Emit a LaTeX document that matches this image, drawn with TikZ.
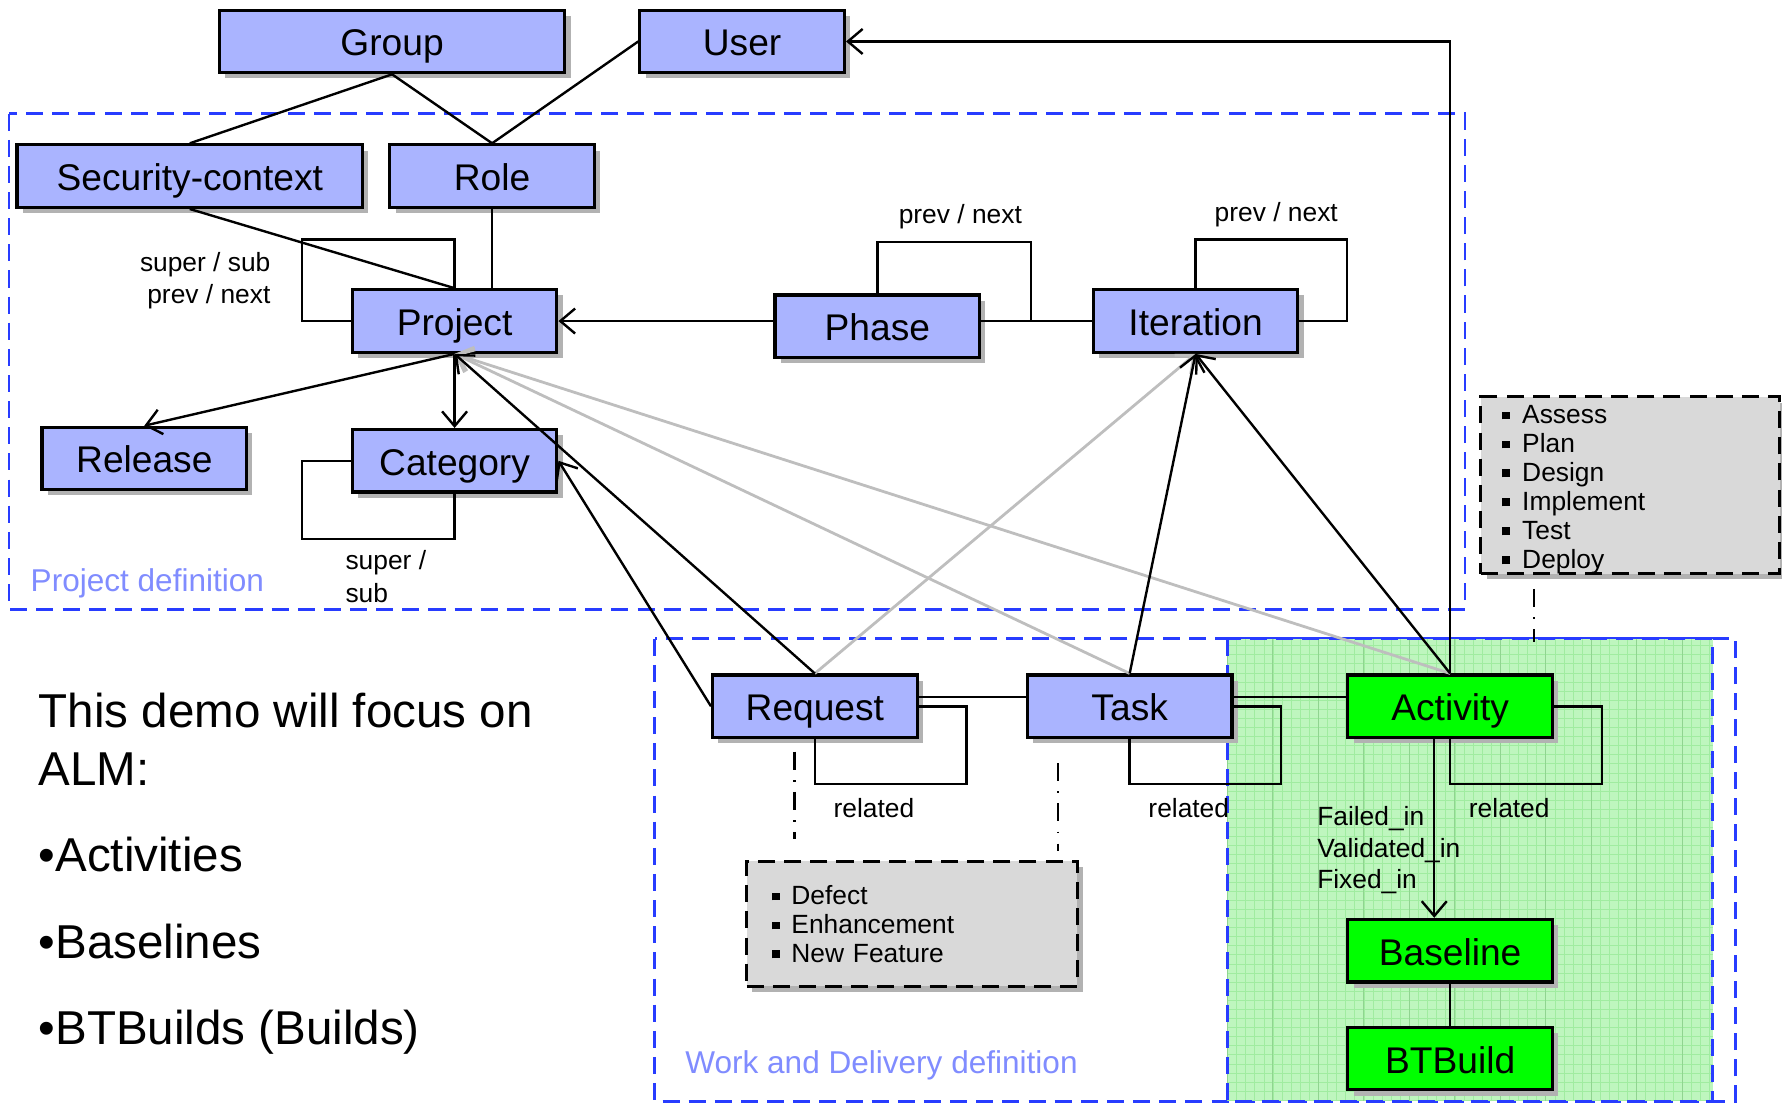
\documentclass[tikz,border=0pt]{standalone}
\usepackage{fontspec}
\setmainfont{Liberation Sans}
\usetikzlibrary{arrows.meta,calc,shadows}
\definecolor{kasten}{RGB}{170,180,255}
\definecolor{rahmen}{RGB}{40,60,255}
\definecolor{schrift}{RGB}{128,140,255}
\definecolor{gruen}{RGB}{0,255,0}
\definecolor{hellgruen}{RGB}{190,246,190}
\definecolor{gitter}{RGB}{160,236,160}
\definecolor{grau}{RGB}{217,217,217}
\definecolor{hellgrau}{RGB}{190,190,190}

\newcommand{\qpunkt}{\rule[0.15em]{0.3em}{0.3em}\hspace{0.45em}}

\tikzset{
	klasse/.style={draw, line width=0.8pt, fill=kasten, minimum width=1.8cm, minimum height=0.55cm, inner sep=0pt,
		text height=0.72em, text depth=0pt,
		font=\fontsize{9.3}{11}\selectfont,
		drop shadow={shadow xshift=0.05cm, shadow yshift=-0.05cm, fill=gray!60, opacity=1}},
	gklasse/.style={klasse, fill=gruen},
	liste/.style={draw, dash pattern=on 1.5mm off 0.8mm, line width=0.8pt, fill=grau, align=left, inner sep=0pt,
		font=\fontsize{6.6}{7.25}\selectfont,
		drop shadow={shadow xshift=0.05cm, shadow yshift=-0.05cm, fill=gray!60, opacity=1}},
	bereich/.style={rahmen, dash pattern=on 1.5mm off 0.8mm, line width=0.7pt},
	bereichtext/.style={schrift, font=\fontsize{7.9}{9}\selectfont, inner sep=0pt},
	rolle/.style={font=\fontsize{6.6}{7.6}\selectfont, inner sep=0pt},
	gross/.style={font=\fontsize{11.9}{14}\selectfont, inner sep=0pt},
	pf/.style={-{Straight Barb[length=1.3mm,width=2.2mm]}},
	strichpunkt/.style={dash pattern=on 1.6mm off 0.9mm on 0.4pt off 0.9mm},
}

\begin{document}
\begin{tikzpicture}[line width=0.6pt]
	\useasboundingbox (0,0) rectangle (15.68,-9.71);

	% Bereiche
	\draw[bereich] (0.08,-1.00) rectangle (12.89,-5.36);
	\draw[bereich] (5.76,-5.62) rectangle (15.27,-9.69);
	\fill[hellgruen] (10.80,-5.62) rectangle (15.07,-9.69);
	\draw[gitter, line width=0.12pt, step=0.08] (10.80,-5.62) grid (15.07,-9.69);
	\foreach \x in {10.8,11.2,...,15.0}{
		\draw[gitter!90!black, line width=0.2pt] (\x,-5.62) -- (\x,-9.69);
	}
	\draw[bereich] (10.80,-5.62) rectangle (15.07,-9.69);
	\node[bereichtext, anchor=west] (lprojekt) at (0.26,-5.13) {Project definition};
	\node[bereichtext, anchor=west] (larbeit) at (6.02,-9.37) {Work and Delivery definition};

	% Klassen
	\node[klasse, minimum width=3.04cm] (group) at (3.45,-0.365) {Group};
	\node[klasse] (user) at (6.53,-0.365) {User};
	\node[klasse, minimum width=3.04cm] (secctx) at (1.67,-1.55) {Security-context};
	\node[klasse] (role) at (4.33,-1.55) {Role};
	\node[klasse] (project) at (4.00,-2.825) {Project};
	\node[klasse] (phase) at (7.72,-2.87) {Phase};
	\node[klasse] (iteration) at (10.52,-2.825) {Iteration};
	\node[klasse] (release) at (1.27,-4.035) {Release};
	\node[klasse] (category) at (4.00,-4.055) {Category};
	\node[klasse] (request) at (7.17,-6.215) {Request};
	\node[klasse] (task) at (9.94,-6.215) {Task};
	\node[gklasse] (activity) at (12.76,-6.215) {Activity};
	\node[gklasse] (baseline) at (12.76,-8.365) {Baseline};
	\node[gklasse] (btbuild) at (12.76,-9.315) {BTBuild};

	\node[liste, minimum width=2.63cm, minimum height=1.52cm, text width=2.25cm] (phasen) at (14.345,-4.27)
		{\\[-0.6pt]\qpunkt Assess\\\qpunkt Plan\\\qpunkt Design\\\qpunkt Implement\\\qpunkt Test\\\qpunkt Deploy};
	\node[liste, minimum width=2.91cm, minimum height=1.10cm, text width=2.47cm] (arten) at (8.025,-8.13)
		{\qpunkt Defect\\\qpunkt Enhancement\\\qpunkt New Feature};

	% Verbindungen
	\draw (group.south) -- (secctx.north);
	\draw (group.south) -- (role.north);
	\draw (user.west) -- (role.north);
	\draw (secctx.south) -- (project.north);
	\draw (role.south) -- (role.south |- project.north);
	\draw[pf] (activity.north) |- (user.east);

	\draw (project.north) -- ++(0,0.43) -| ([xshift=-0.43cm]project.west) -- (project.west);
	\draw (phase.north) -- ++(0,0.45) -| ([xshift=0.44cm]iteration.west -| phase.east) -- (iteration.west -| phase.east);
	\draw (iteration.west) -- (iteration.west -| phase.east);
	\draw (iteration.north) -- ++(0,0.43) -| ([xshift=0.42cm]iteration.east) -- (iteration.east);
	\draw[pf] (phase.west |- project.east) -- (project.east);

	\draw[pf] (project.south) -- (release.north);
	\draw[pf] (project.south) -- (category.north);
	\draw (category.west) -- ++(-0.43,0) -- ++(0,-0.69) -| (category.south);

	\draw[pf, hellgrau, line width=0.7pt] (task.north) -- (project.south);
	\draw[pf, hellgrau, line width=0.7pt] (activity.north) -- (project.south);
	\draw[pf, hellgrau, line width=0.7pt] (request.north) -- (iteration.south);
	\draw[pf] (request.north) -- (project.south);
	\draw[pf] (request.west) -- (category.east);
	\draw[pf] (task.north) -- (iteration.south);
	\draw[pf] (activity.north) -- (iteration.south);

	\draw ([yshift=0.08cm]request.east) -- ([yshift=0.08cm]task.west);
	\draw ([yshift=0.08cm]task.east) -- ([yshift=0.08cm]activity.west);
	\draw (request.east) -- ++(0.42,0) -- ++(0,-0.685) -| (request.south);
	\draw (task.east) -- ++(0.42,0) -- ++(0,-0.685) -| (task.south);
	\draw (activity.east) -- ++(0.42,0) -- ++(0,-0.685) -| (activity.south);
	\draw[pf] ([xshift=-0.14cm]activity.south) -- ([xshift=-0.14cm]baseline.north);
	\draw (baseline.south) -- (btbuild.north);

	\draw[strichpunkt] ($(request.south)+(-0.18,-0.11)$) -- ($(request.south |- arten.north)+(-0.18,0.18)$);
	\draw[strichpunkt] ($(task.south)+(-0.63,-0.21)$) -- ($(task.south |- arten.north)+(-0.63,0.08)$);
	\draw[strichpunkt] ($(phasen.south)+(-0.845,-0.12)$) -- ($(phasen.south)+(-0.845,-0.59)$);

	% Rollen
	\node[rolle, anchor=east] (lsuper) at (2.39,-2.33) {super / sub};
	\node[rolle, anchor=east] (lprev) at (2.39,-2.61) {prev / next};
	\node[rolle] (lphase) at (8.45,-1.91) {prev / next};
	\node[rolle] (liter) at (11.23,-1.89) {prev / next};
	\node[rolle, anchor=west] (lcat1) at (3.03,-4.95) {super /};
	\node[rolle, anchor=west] (lcat2) at (3.03,-5.22) {sub};
	\node[rolle] (lrel1) at (7.69,-7.11) {related};
	\node[rolle] (lrel2) at (10.46,-7.11) {related};
	\node[rolle] (lrel3) at (13.28,-7.11) {related};
	\node[rolle, anchor=west] (lfail) at (11.58,-7.20) {Failed\_in};
	\node[rolle, anchor=west] (lvalid) at (11.58,-7.48) {Validated\_in};
	\node[rolle, anchor=west] (lfix) at (11.58,-7.76) {Fixed\_in};

	% Text
	\node[gross, anchor=base west] (satz1) at (0.33,-6.40) {This demo will focus on};
	\node[gross, anchor=base west] (satz2) at (0.33,-6.91) {ALM:};
	\node[gross, anchor=base west] (punkt1) at (0.33,-7.67) {•Activities};
	\node[gross, anchor=base west] (punkt2) at (0.33,-8.43) {•Baselines};
	\node[gross, anchor=base west] (punkt3) at (0.33,-9.19) {•BTBuilds (Builds)};
\end{tikzpicture}
\end{document}
